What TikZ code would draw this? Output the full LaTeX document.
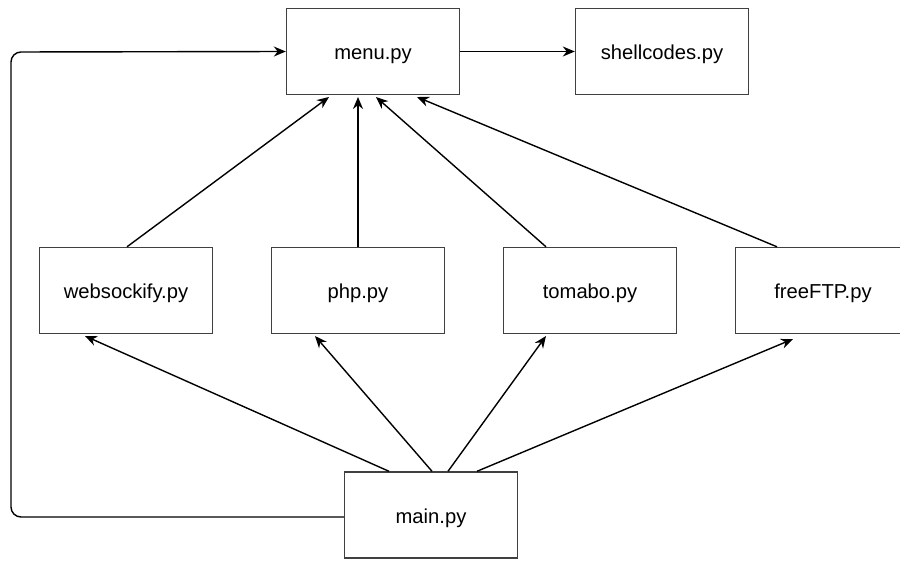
\documentclass[tikz,border=0pt]{standalone}
\usepackage{fontspec}
\setmainfont{Liberation Sans}
\usetikzlibrary{arrows.meta}
\begin{document}
\begin{tikzpicture}[x=1pt,y=-1pt,
  box/.style={draw=black!75, line width=1.4pt, fill=white, minimum width=173pt, minimum height=86pt, inner sep=0pt, text height=16pt, text depth=0pt, font=\fontsize{20.2}{23}\selectfont},
  conn/.style={draw=black, line width=1.4pt, -{Stealth[length=12pt,width=10pt]}},
  plain/.style={draw=black, line width=1.4pt}]
\useasboundingbox (0,0) rectangle (900,560);
\node[box] (menu) at (373,51.5) {menu.py};
\node[box] (shell) at (662,51.5) {shellcodes.py};
\node[box] (ws) at (126,290.5) {websockify.py};
\node[box] (php) at (358,290.5) {php.py};
\node[box] (tom) at (590,290.5) {tomabo.py};
\node[box, minimum width=175pt] (ftp) at (823,290.5) {freeFTP.py};
\node[box] (main) at (431,515) {main.py};
\coordinate (l1) at (11,517);
\coordinate (l2) at (11,52);
\draw[conn, rounded corners=10pt] (main.west |- 0,517) -- (l1) -- (l2) -- (menu.west);
\draw[conn] (menu.east) -- (shell.west);
\draw[conn] (ws.north -| 127,0) -- (329,97);
\draw[conn] (php.north) -- (358,97);
\draw[conn] (tom.north -| 546,0) -- (376,97);
\draw[conn] (ftp.north -| 777,0) -- (417,97);
\draw[conn] (main.north -| 389,0) -- (85,336);
\draw[conn] (main.north -| 432,0) -- (315,336);
\draw[conn] (main.north -| 448,0) -- (546,336);
\draw[conn] (main.north -| 477,0) -- (793,339);
\end{tikzpicture}
\end{document}
